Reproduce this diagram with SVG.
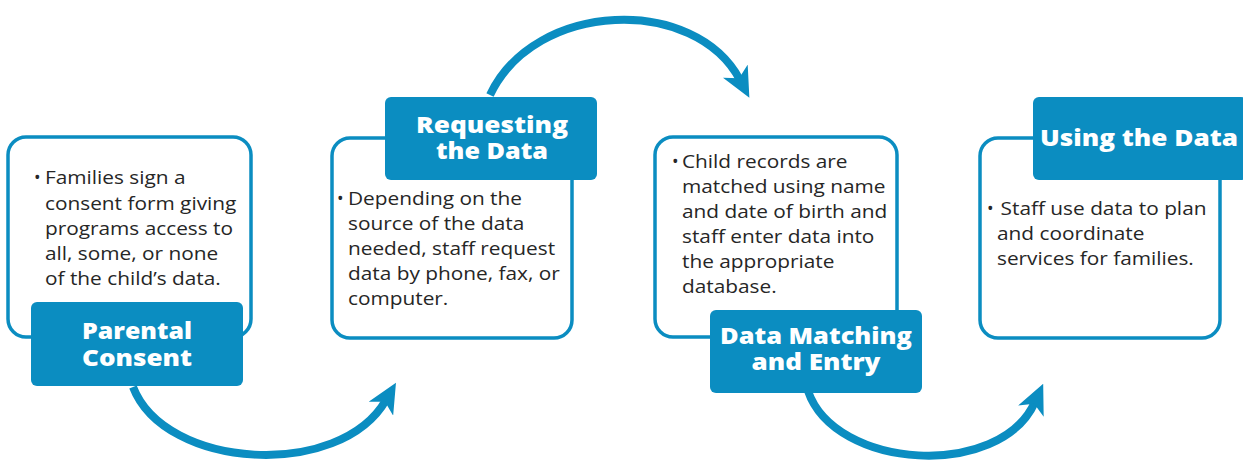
<svg xmlns="http://www.w3.org/2000/svg" width="1243" height="463" viewBox="0 0 1243 463">
<defs>
<marker id="ah" markerUnits="userSpaceOnUse" markerWidth="30" markerHeight="28" viewBox="0 0 30 28" refX="10" refY="14" orient="auto">
<path d="M0,0 L30,14 L0,28 L8,14 z" fill="#0b8dc1"/>
</marker>
<style>
.box{fill:#fff;stroke:#0b8dc1;stroke-width:3.5}
.lab{fill:#0b8dc1}
.lt{font-family:"Open Sans","Noto Sans",sans-serif;font-weight:800;font-size:23px;fill:#fff;text-anchor:middle}
.bt{font-family:"Open Sans","Noto Sans",sans-serif;font-size:17.5px;fill:#262626}
.arr{fill:none;stroke:#0b8dc1;stroke-width:8;marker-end:url(#ah)}
</style>
</defs>
<rect width="1243" height="463" fill="#fff"/>
<g id="connectors">
<path class="arr" d="M133,387 C165,470 340,480 386,400"/>
<path class="arr" d="M490,95 C535,0 695,-5 740,80"/>
<path class="arr" d="M808,391 C835,470 1000,480 1035,402"/>
</g>
<g id="parental-consent">
<rect class="box" x="8" y="137" width="243" height="200" rx="18"/>
<text class="bt" x="34" y="184">•</text>
<text class="bt" transform="matrix(1.19,0,0,1,-8.55,0)"><tspan x="45" y="184">Families sign a</tspan><tspan x="45" y="210">consent form giving</tspan><tspan x="45" y="235">programs access to</tspan><tspan x="45" y="260">all, some, or none</tspan><tspan x="45" y="285">of the child’s data.</tspan></text>
<rect class="lab" x="31" y="302" width="212" height="84" rx="6"/>
<text class="lt"><tspan x="137" y="339" textLength="110" lengthAdjust="spacingAndGlyphs">Parental</tspan><tspan x="137" y="366" textLength="110" lengthAdjust="spacingAndGlyphs">Consent</tspan></text>
</g>
<g id="requesting-the-data">
<rect class="box" x="332" y="138" width="240" height="200" rx="18"/>
<text class="bt" x="337" y="205">•</text>
<text class="bt" transform="matrix(1.19,0,0,1,-66.12,0)"><tspan x="348" y="205">Depending on the</tspan><tspan x="348" y="230">source of the data</tspan><tspan x="348" y="255">needed, staff request</tspan><tspan x="348" y="280">data by phone, fax, or</tspan><tspan x="348" y="305">computer.</tspan></text>
<rect class="lab" x="385" y="97" width="212" height="83" rx="6"/>
<text class="lt"><tspan x="492" y="133" textLength="152" lengthAdjust="spacingAndGlyphs">Requesting</tspan><tspan x="492" y="159" textLength="112" lengthAdjust="spacingAndGlyphs">the Data</tspan></text>
</g>
<g id="data-matching">
<rect class="box" x="655" y="137" width="242" height="200" rx="18"/>
<text class="bt" x="672" y="168">•</text>
<text class="bt" transform="matrix(1.19,0,0,1,-129.58,0)"><tspan x="682" y="168">Child records are</tspan><tspan x="682" y="193">matched using name</tspan><tspan x="682" y="218">and date of birth and</tspan><tspan x="682" y="243">staff enter data into</tspan><tspan x="682" y="268">the appropriate</tspan><tspan x="682" y="293">database.</tspan></text>
<rect class="lab" x="710" y="310" width="212" height="83" rx="6"/>
<text class="lt"><tspan x="816" y="344" textLength="192" lengthAdjust="spacingAndGlyphs">Data Matching</tspan><tspan x="816" y="370" textLength="129" lengthAdjust="spacingAndGlyphs">and Entry</tspan></text>
</g>
<g id="using-the-data">
<rect class="box" x="980" y="138" width="240" height="200" rx="18"/>
<text class="bt" x="987" y="215">•</text>
<text class="bt" transform="matrix(1.19,0,0,1,-189.43,0)"><tspan x="1000" y="215">Staff use data to plan</tspan><tspan x="997" y="240">and coordinate</tspan><tspan x="997" y="265">services for families.</tspan></text>
<rect class="lab" x="1033" y="97" width="214" height="83" rx="6"/>
<text class="lt" x="1139" y="146" textLength="198" lengthAdjust="spacingAndGlyphs">Using the Data</text>
</g>
</svg>
